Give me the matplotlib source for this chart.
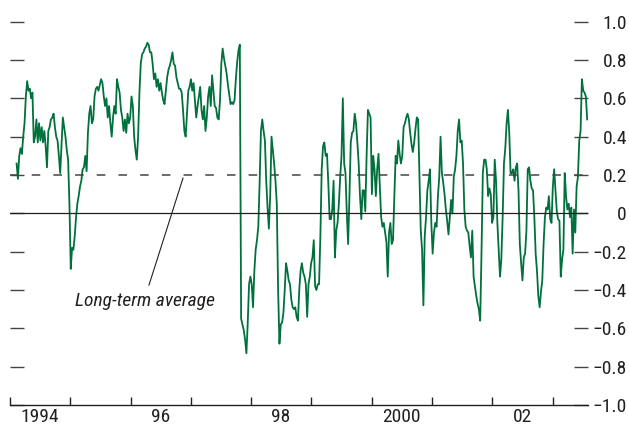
import matplotlib
matplotlib.use("Agg")
import matplotlib.pyplot as plt
import numpy as np
import pandas as pd
from datetime import datetime

FONT = ["Roboto Condensed", "DejaVu Sans"]
INK = "#231f20"
GREEN = "#00703c"

# correlation series, sampled every 8 days from Feb 1994
values_1994_95 = [
    0.26, 0.18, 0.30, 0.34, 0.31, 0.40, 0.47, 0.61, 0.69, 0.64,
    0.65, 0.60, 0.63, 0.37, 0.40, 0.49, 0.37, 0.47, 0.38, 0.45,
    0.37, 0.43, 0.35, 0.24, 0.43, 0.45, 0.49, 0.50, 0.52, 0.45,
    0.40, 0.38, 0.30, 0.21, 0.36, 0.50, 0.45, 0.40, 0.33, 0.28,
    0.05, -0.29, -0.18, -0.19, -0.12, -0.02, 0.05, 0.09, 0.14, 0.17,
    0.23, 0.24, 0.30, 0.22, 0.42, 0.52, 0.56, 0.47, 0.49, 0.61,
    0.65, 0.66, 0.64, 0.67, 0.70, 0.68, 0.61,
]
values_1995_97 = [
    0.56, 0.60, 0.50, 0.56, 0.47, 0.40, 0.50, 0.56, 0.52, 0.70,
    0.66, 0.63, 0.54, 0.50, 0.43, 0.49, 0.42, 0.52, 0.47, 0.50,
    0.61, 0.56, 0.40, 0.33, 0.28, 0.40, 0.63, 0.78, 0.83, 0.84,
    0.86, 0.87, 0.89, 0.88, 0.84, 0.84, 0.78, 0.70, 0.73, 0.66,
    0.70, 0.64, 0.68, 0.63, 0.59, 0.57, 0.64, 0.71, 0.75, 0.77,
    0.80, 0.84, 0.78, 0.77, 0.71, 0.68, 0.65, 0.65, 0.63, 0.54,
    0.43, 0.40, 0.52, 0.64, 0.66, 0.70, 0.64, 0.68, 0.59, 0.50,
    0.56, 0.61,
]
values_1997_98 = [
    0.66, 0.54, 0.49, 0.56, 0.43, 0.50, 0.61, 0.66, 0.56, 0.72,
    0.64, 0.56, 0.55, 0.50, 0.49, 0.59, 0.78, 0.86, 0.81, 0.77,
    0.73, 0.67, 0.62, 0.57, 0.58, 0.57, 0.59, 0.70, 0.79, 0.85,
    0.88, -0.55, -0.58, -0.61, -0.66, -0.73, -0.57, -0.37, -0.33, -0.37,
    -0.49, -0.30, -0.19, -0.14, -0.07, 0.16, 0.43, 0.49, 0.43, 0.38,
    0.17, 0.03, -0.08, 0.09, 0.40, 0.33, 0.26, 0.17, 0.05, -0.40,
    -0.68, -0.58, -0.57, -0.52, -0.40, -0.26, -0.30, -0.35, -0.37, -0.45,
    -0.49, -0.50,
]
values_1998_2000 = [
    -0.49, -0.54, -0.56, -0.40, -0.30, -0.26, -0.31, -0.33, -0.37, -0.54,
    -0.37, -0.33, -0.26, -0.23, -0.14, -0.38, -0.40, -0.37, -0.37, -0.12,
    0.23, 0.35, 0.37, 0.30, 0.31, 0.16, -0.03, -0.03, 0.02, 0.17,
    -0.23, -0.09, -0.05, 0.05, 0.19, 0.30, 0.60, 0.26, 0.21, 0.00,
    -0.16, 0.09, 0.37, 0.42, 0.43, 0.52, 0.47, 0.37, 0.26, 0.09,
    -0.03, 0.12, 0.12, 0.01, 0.30, 0.54, 0.52, 0.50, 0.10, 0.30,
    0.23, 0.09, 0.23, 0.31, 0.14, -0.02, -0.07, -0.05, -0.10, -0.15,
    -0.33, -0.10,
]
values_2000_01 = [
    -0.05, -0.16, -0.14, 0.09, 0.30, 0.26, 0.38, 0.31, 0.26, 0.30,
    0.45, 0.47, 0.50, 0.52, 0.49, 0.42, 0.36, 0.32, 0.37, 0.44,
    0.50, 0.49, 0.19, -0.09, -0.19, -0.48, -0.12, -0.02, 0.12, 0.17,
    0.23, -0.05, -0.21, -0.10, -0.05, -0.07, 0.09, 0.19, 0.40, 0.21,
    0.16, 0.10, 0.02, -0.04, -0.11, -0.02, 0.07, 0.00, 0.19, 0.23,
    0.30, 0.43, 0.49, 0.37, 0.38, 0.26, 0.02, -0.07, -0.09, -0.10,
    -0.17, -0.23, -0.09, -0.33, -0.38, -0.43, -0.47, -0.50, -0.56, -0.20,
    0.21, 0.28,
]
values_2001_03 = [
    0.28, 0.23, 0.09, 0.13, 0.10, -0.05, -0.02, 0.28, 0.17, -0.05,
    -0.19, -0.33, -0.24, -0.02, 0.26, 0.34, 0.47, 0.54, 0.42, 0.21,
    0.21, 0.23, 0.17, 0.24, 0.26, 0.12, -0.16, -0.26, -0.35, -0.23,
    -0.21, -0.09, 0.23, 0.24, 0.17, 0.13, 0.12, -0.02, -0.21, -0.30,
    -0.43, -0.49, -0.41, -0.35, -0.16, -0.02, 0.03, 0.02, 0.09, -0.03,
    -0.05, 0.14, 0.23, 0.12, 0.01, -0.03, -0.04, -0.33, -0.24, -0.19,
    0.21, 0.09, 0.02, 0.05, -0.02, 0.03, -0.21, 0.02, -0.10, 0.14,
    0.19, 0.38, 0.43, 0.70, 0.64, 0.63, 0.61, 0.49,
]

long_term_average = 0.2
year_ticks = list(range(1994, 2004))
label_years = [1994, 1996, 1998, 2000, 2002]
year_labels = ["1994", "96", "98", "2000", "02"]
ytick_values = [-1.0, -0.8, -0.6, -0.4, -0.2, 0.0, 0.2, 0.4, 0.6, 0.8, 1.0]
ytick_labels = ["\u22121.0", "\u22120.8", "\u22120.6", "\u22120.4", "\u22120.2",
                "0", "0.2", "0.4", "0.6", "0.8", "1.0"]

series = np.concatenate([values_1994_95, values_1995_97, values_1997_98,
                         values_1998_2000, values_2000_01, values_2001_03])
dates = pd.date_range("1994-02-10", periods=len(series), freq="8D")

fig = plt.figure(figsize=(6.29, 4.26), dpi=100)
ax = fig.add_axes([10 / 629, 21 / 426, 578 / 629, 383.3 / 426])

ax.plot(dates, series, color=GREEN, lw=1.3, zorder=2)
ax.axhline(0, color=INK, lw=0.9, zorder=3)
ax.axhline(long_term_average, color="#444444", lw=1.1,
           linestyle=(0, (5.6, 8.6)), zorder=3)

ax.set_xlim(datetime(1994, 1, 1), datetime(2003, 8, 3))
ax.set_ylim(-1, 1)

for side in ["top", "left", "right"]:
    ax.spines[side].set_visible(False)
ax.spines["bottom"].set_color(INK)
ax.spines["bottom"].set_linewidth(1.0)

ax.set_xticks([datetime(y, 1, 1) for y in year_ticks])
ax.set_xticks([datetime(y, 7, 1) for y in label_years], minor=True)
ax.set_xticklabels([])
ax.set_xticklabels(year_labels, minor=True, fontfamily=FONT, fontsize=14, color=INK)
ax.tick_params(axis="x", which="major", direction="in", length=5.8, width=1.0,
               color=INK, labelbottom=False)
ax.tick_params(axis="x", which="minor", length=0, pad=2)

ax.set_yticks(ytick_values)
ax.set_yticklabels(ytick_labels, fontfamily=FONT, fontsize=14, color=INK)
ax.tick_params(axis="y", direction="in", length=10, width=1.0, color="#444444",
               left=True, right=True, labelleft=False, labelright=True, pad=28)
for tick in ax.yaxis.get_major_ticks():
    tick.label2.set_horizontalalignment("right")

ax.text(datetime(1995, 1, 29), -0.484, "Long-term average", style="italic",
        fontsize=14, family=FONT, color=INK, va="baseline")
ax.plot([datetime(1996, 4, 22), datetime(1996, 11, 14)], [-0.374, 0.184],
        color=INK, lw=0.8)

fig.savefig("out.png", dpi=100)
